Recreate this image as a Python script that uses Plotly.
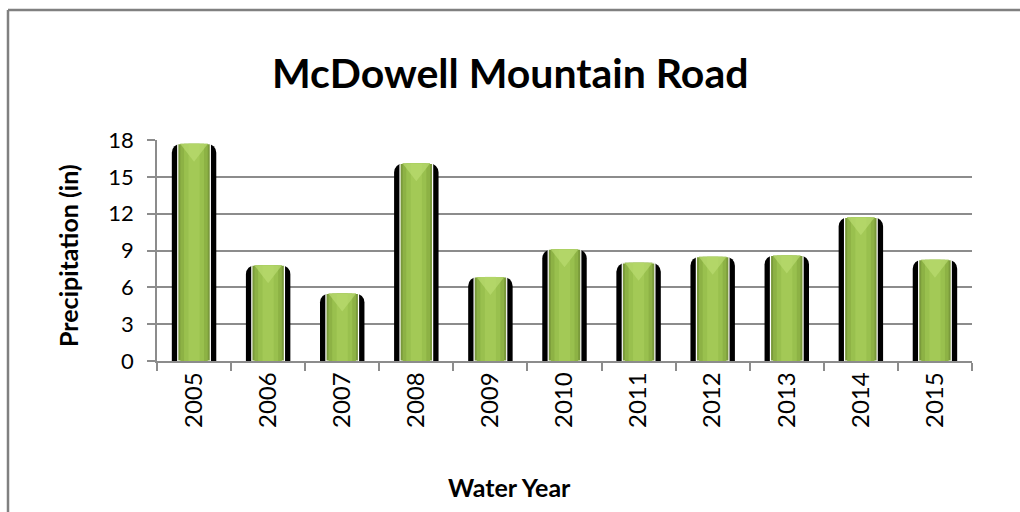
import plotly.graph_objects as go

years = ["2005", "2006", "2007", "2008", "2009", "2010", "2011", "2012", "2013", "2014", "2015"]
precip = [17.7, 7.8, 5.5, 16.1, 6.85, 9.1, 8.0, 8.5, 8.6, 11.7, 8.25]
y_ticks = [0, 3, 6, 9, 12, 15, 18]

W, H = 1020, 512
L, R, T, B = 157, 48, 140, 151
FONT = "Lato"
YMAX = 18
px_per_unit = (H - T - B) / YMAX

fig = go.Figure()
# black shadow bar
fig.add_trace(go.Bar(x=years, y=precip, width=0.6, marker=dict(color="#000000", cornerradius=9, line=dict(width=0)),
                     hoverinfo="skip", showlegend=False))
# green bar layers (approximate gradient)
layers = [(0.44, "#7A9A3B", dict(color="#ffffff", width=1.2)),
          (0.37, "#8DB245", dict(width=0)),
          (0.27, "#99C04E", dict(width=0)),
          (0.15, "#A3C956", dict(width=0))]
for w, c, ln in layers:
    fig.add_trace(go.Bar(x=years, y=precip, width=w, marker=dict(color=c, line=ln),
                         hoverinfo="skip", showlegend=False))
# light bevel highlight at bar tops
fig.add_trace(go.Scatter(x=years, y=[v - 6 / px_per_unit for v in precip], mode="markers",
                         marker=dict(symbol="triangle-down", size=24, color="#B9DC70", opacity=0.7,
                                     line=dict(width=0)),
                         hoverinfo="skip", showlegend=False, cliponaxis=False))

px2x = lambda px: (px - L) / (W - L - R)
px2y = lambda py: (H - B - py) / (H - T - B)

fig.update_layout(
    width=W, height=H,
    margin=dict(l=L, r=R, t=T, b=B),
    barmode="overlay",
    plot_bgcolor="white", paper_bgcolor="white",
    font=dict(family=FONT, color="#000000"),
    xaxis=dict(type="category", range=[-0.5, len(years) - 0.5], tickangle=-90, tickfont=dict(size=24, family=FONT),
               showline=True, linecolor="#8c8c8c", linewidth=1.5,
               ticks="outside", ticklen=8, tickcolor="#8c8c8c", tickwidth=1.5,
               tickson="boundaries", showgrid=False, fixedrange=True),
    yaxis=dict(range=[0, YMAX], tickvals=y_ticks, tickfont=dict(size=22, family=FONT),
               showline=True, linecolor="#8c8c8c", linewidth=1.5,
               ticks="outside", ticklen=8, tickcolor="#8c8c8c", tickwidth=1.5,
               ticklabelstandoff=9,
               showgrid=True, gridcolor="#8c8c8c", gridwidth=1.5, zeroline=False,
               fixedrange=True),
    shapes=[
        dict(type="line", xref="paper", yref="paper", x0=px2x(8), x1=px2x(1030), y0=px2y(10), y1=px2y(10),
             line=dict(color="#808080", width=2.5)),
        dict(type="line", xref="paper", yref="paper", x0=px2x(8), x1=px2x(8), y0=px2y(10), y1=px2y(530),
             line=dict(color="#808080", width=2.5)),
    ],
    annotations=[
        dict(text="<b>McDowell Mountain Road</b>", xref="paper", yref="paper", x=px2x(510), y=px2y(73),
             xanchor="center", yanchor="middle", showarrow=False, font=dict(size=41, family=FONT)),
        dict(text="<b>Precipitation (in)</b>", xref="paper", yref="paper", x=px2x(68), y=px2y(256),
             xanchor="center", yanchor="middle", textangle=-90, showarrow=False, font=dict(size=25, family=FONT)),
        dict(text="<b>Water Year</b>", xref="paper", yref="paper", x=px2x(509), y=px2y(487),
             xanchor="center", yanchor="middle", showarrow=False, font=dict(size=25, family=FONT)),
    ],
)

fig.write_html("out.html", config={"displayModeBar": False},
               post_script="document.body.style.margin='0';document.body.style.overflow='hidden';")
